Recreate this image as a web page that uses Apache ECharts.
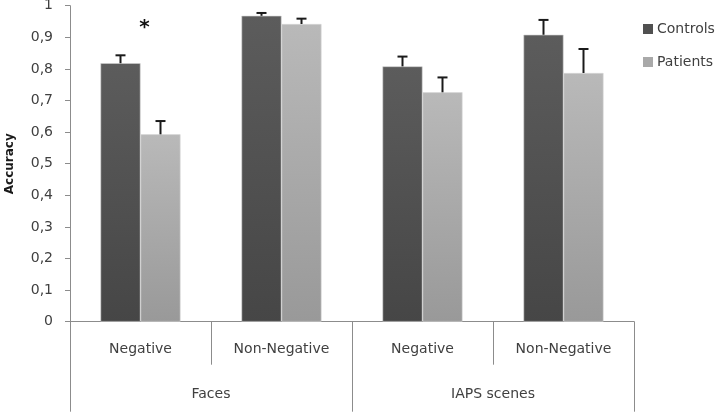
<!DOCTYPE html>
<html><head><meta charset="utf-8">
<script src="https://cdn.jsdelivr.net/npm/echarts@6/dist/echarts.min.js"></script>
<style>html,body{margin:0;padding:0;background:#fff}#c{width:720px;height:412px}</style>
</head><body><div id="c"></div>
<script>
var conditions = ['Negative', 'Non-Negative', 'Negative', 'Non-Negative'];
var groups = ['Faces', 'IAPS scenes'];
var controls = [0.818, 0.968, 0.808, 0.908];
var controlsErr = [0.843, 0.977, 0.839, 0.955];
var patients = [0.593, 0.942, 0.726, 0.787];
var patientsErr = [0.635, 0.959, 0.773, 0.863];
var yTicks = [0, 0.1, 0.2, 0.3, 0.4, 0.5, 0.6, 0.7, 0.8, 0.9, 1];

var font = 'DejaVu Sans';
var txt = '#404040';

function errSeries(name, tops, vals, shift) {
  return {
    type: 'custom', name: name + ' err', silent: true, z: 5,
    data: vals.map(function (v, i) { return [i, v, tops[i]]; }),
    renderItem: function (params, api) {
      var b = api.coord([api.value(0), api.value(1)]);
      var t = api.coord([api.value(0), api.value(2)]);
      var x = b[0] + shift;
      return {
        type: 'group', children: [
          { type: 'line', shape: { x1: x, y1: b[1], x2: x, y2: t[1] }, style: { stroke: '#1a1a1a', lineWidth: 2 } },
          { type: 'line', shape: { x1: x - 5, y1: t[1], x2: x + 5, y2: t[1] }, style: { stroke: '#1a1a1a', lineWidth: 2 } }
        ]
      };
    }
  };
}

var chart = echarts.init(document.getElementById('c'));
chart.setOption({
  animation: false,
  backgroundColor: '#fff',
  grid: { left: 70, right: 86, top: 5.7, bottom: 90.3, containLabel: false, outerBoundsMode: 'none' },
  legend: {
    orient: 'vertical', left: 643, top: 22, padding: 0, itemWidth: 10, itemHeight: 10, itemGap: 19,
    icon: 'rect',
    itemStyle: { borderWidth: 0 },
    textStyle: { fontFamily: font, fontSize: 14, color: txt, padding: [0, 0, 0, -1] },
    data: [
      { name: 'Controls', itemStyle: { color: '#505050', borderWidth: 0 } },
      { name: 'Patients', itemStyle: { color: '#a9a9a9', borderWidth: 0 } }
    ]
  },
  xAxis: [{
    type: 'category', data: conditions, position: 'bottom',
    axisLine: { lineStyle: { color: '#8c8c8c', width: 1 } },
    axisTick: { show: true, length: 43, lineStyle: { color: '#8c8c8c' } },
    axisLabel: { fontFamily: font, fontSize: 14, color: txt, margin: 21 }
  }, {
    type: 'category', data: groups, position: 'bottom',
    axisLine: { show: false },
    axisTick: { show: true, length: 90, lineStyle: { color: '#8c8c8c' } },
    axisLabel: { fontFamily: font, fontSize: 14, color: txt, margin: 66 }
  }],
  yAxis: {
    type: 'value', min: 0, max: 1, interval: 0.1,
    name: 'Accuracy', nameLocation: 'middle', nameGap: 54, nameRotate: 90,
    nameTextStyle: { fontFamily: font, fontSize: 12, fontWeight: 'bold', color: '#1a1a1a' },
    axisLine: { show: true, lineStyle: { color: '#8c8c8c' } },
    axisTick: { show: true, length: 5, inside: false, lineStyle: { color: '#8c8c8c' } },
    splitLine: { show: false },
    axisLabel: {
      fontFamily: font, fontSize: 14, color: txt, margin: 17,
      formatter: function (v) {
        var s = (Math.round(v * 10) / 10).toString();
        return s.replace('.', ',');
      }
    }
  },
  series: [{
    name: 'Controls', type: 'bar', data: controls, barWidth: 40, barGap: '0%',
    itemStyle: {
      color: new echarts.graphic.LinearGradient(0, 0, 0, 1, [
        { offset: 0, color: '#5c5c5c' }, { offset: 1, color: '#464646' }]),
      borderColor: '#cfcfcf', borderWidth: 0.6
    },
    markPoint: {
      symbol: 'circle', symbolSize: 0,
      label: { show: true, formatter: '*', fontSize: 20, fontWeight: 'bold', color: '#111', fontFamily: font, offset: [24, 0] },
      data: [{ coord: [0, 0.93] }]
    }
  }, {
    name: 'Patients', type: 'bar', data: patients, barWidth: 40,
    itemStyle: {
      color: new echarts.graphic.LinearGradient(0, 0, 0, 1, [
        { offset: 0, color: '#b9b9b9' }, { offset: 1, color: '#999999' }]),
      borderColor: '#d6d6d6', borderWidth: 0.6
    }
  },
  errSeries('Controls', controlsErr, controls, -20),
  errSeries('Patients', patientsErr, patients, 20)
  ]
});
</script></body></html>
